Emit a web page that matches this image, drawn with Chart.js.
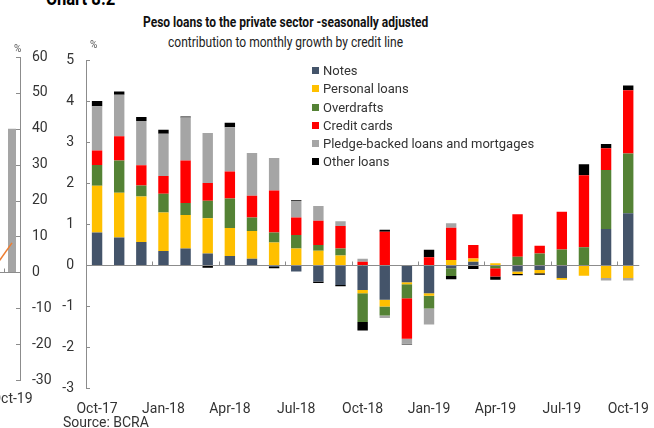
<!DOCTYPE html>
<html>
<head>
<meta charset="utf-8">
<script src="https://cdn.jsdelivr.net/npm/chart.js@4/dist/chart.umd.min.js"></script>
<style>
  html, body { margin: 0; padding: 0; background: #fff; }
  body { width: 654px; height: 428px; position: relative; overflow: hidden; font-family: Roboto, "Noto Sans", sans-serif; color: #333; }
  .box { position: absolute; }
  .fit { position: absolute; white-space: nowrap; transform-origin: left top; }
  #chartNo { left: 46px; top: -14px; font-weight: bold; font-size: 20px; color: #000; }
  #titulo { top: 13px; font-weight: bold; font-size: 15px; color: #111; }
  #subtitulo { top: 33px; font-size: 15px; color: #222; }
  #fuente { position: absolute; left: 63px; top: 414px; font-size: 14px; color: #333; }
  .pct { position: absolute; font-size: 10px; color: #555; }
  #leyenda { position: absolute; left: 312px; top: 62px; font-size: 13px; color: #333; }
  #leyenda div { height: 18.3px; line-height: 18.3px; white-space: nowrap; }
  #leyenda span { display: inline-block; width: 7px; height: 7px; margin-right: 4px; vertical-align: 1px; }
</style>
</head>
<body>
<div id="chartNo" class="fit">Chart 8.2</div>
<div id="titulo" class="fit">Peso loans to the private sector -seasonally adjusted</div>
<div id="subtitulo" class="fit">contribution to monthly growth by credit line</div>

<div class="box" style="left:-30px; top:0; width:90px; height:428px;"><canvas id="graficoIzq"></canvas></div>
<div class="box" style="left:52px; top:0; width:602px; height:428px;"><canvas id="graficoBarras"></canvas></div>

<div class="pct" style="left:14px; top:43px;">%</div>
<div class="pct" style="left:90px; top:39px;">%</div>
<div id="leyenda"></div>
<div id="fuente">Source: BCRA</div>

<script>
// monthly contribution by credit line (p.p.)
const meses = ['Oct-17','Nov-17','Dec-17','Jan-18','Feb-18','Mar-18','Apr-18','May-18','Jun-18','Jul-18','Aug-18','Sep-18',
               'Oct-18','Nov-18','Dec-18','Jan-19','Feb-19','Mar-19','Apr-19','May-19','Jun-19','Jul-19','Aug-19','Sep-19','Oct-19'];
const documentos = [0.79,0.67,0.56,0.34,0.40,0.28,0.22,0.15,-0.05,-0.16,-0.40,-0.49,-0.61,-0.85,-0.42,-0.69,-0.08,0.08,0,-0.16,-0.12,-0.32,0,0.88,1.26];
const personales = [1.14,1.09,1.11,0.94,0.82,0.86,0.68,0.68,0.55,0.40,0.35,0.23,-0.08,-0.16,-0.05,-0.06,0.12,0.08,0.04,-0.06,-0.08,-0.04,-0.26,-0.32,-0.32];
const adelantos = [0.51,0.79,0.27,0.46,0.29,0.43,0.72,0.33,0.24,0.33,0.14,0.17,-0.70,-0.22,-0.34,-0.31,-0.19,0,-0.08,0.20,0.28,0.38,0.43,1.44,1.46];
const tarjetas = [0.35,0.59,0.49,0.43,1.04,0.43,0.66,0.53,1.03,0.43,0.59,0.55,0.08,0.81,-0.99,0.19,0.79,0.33,-0.20,1.04,0.19,0.92,1.76,0.53,1.54];
const garantia = [1.08,1.01,1.08,1.03,1.05,1.22,1.08,1.04,0.79,0.40,0.36,0.12,0.07,-0.06,-0.12,-0.39,0.11,0,0,0,0,0,0,-0.06,-0.06];
const otros = [0.13,0.08,0.10,0.10,0.02,-0.07,0.11,0,-0.03,0.02,-0.04,-0.03,-0.21,0.05,-0.02,0.18,-0.08,-0.10,-0.08,-0.03,-0.04,0,0.27,0.10,0.12];
const ticksY = [-3, 5, 1];

// neighbouring chart (only its last months are on the page)
const mesesIzq = ['Sep-19','Oct-19'];
const barrasIzq = [26.6, 40];
const lineaIzq = [1.9, 8.2];
const ticksIzq = [-30, 60, 10];

const series = [
  { label: 'Notes', data: documentos, color: '#44546A' },
  { label: 'Personal loans', data: personales, color: '#FFC000' },
  { label: 'Overdrafts', data: adelantos, color: '#548235' },
  { label: 'Credit cards', data: tarjetas, color: '#FF0000' },
  { label: 'Pledge-backed loans and mortgages', data: garantia, color: '#A5A5A5' },
  { label: 'Other loans', data: otros, color: '#000000' }
];

// squeeze a text to a given width (the heading font is condensed)
function ajustar(id, ancho, centro) {
  const el = document.getElementById(id);
  const w = el.offsetWidth;
  el.style.transform = 'scaleX(' + (ancho / w) + ')';
  el.style.left = (centro != null ? centro - ancho / 2 : el.offsetLeft) + 'px';
}
ajustar('titulo', 285, 285.5);
ajustar('subtitulo', 235, 285.5);
ajustar('chartNo', 69, null);

document.getElementById('leyenda').innerHTML = series.map(s =>
  `<div><span style="background:${s.color}"></span>${s.label}</div>`).join('');

const gris = '#8c8c8c';
const fuenteEje = { family: 'Roboto', size: 14 };

// small inward ticks on the value axis and quarter marks on the zero line
const marcas = {
  id: 'marcas',
  afterDraw(chart, args, opts) {
    const { ctx, chartArea } = chart;
    const y = chart.scales.y, x = chart.scales.x;
    ctx.save();
    ctx.strokeStyle = gris;
    ctx.lineWidth = 1;
    ctx.beginPath();
    y.ticks.forEach(t => {
      const py = Math.round(y.getPixelForValue(t.value)) + 0.5;
      if (opts.derecha) { ctx.moveTo(chartArea.right - 4, py); ctx.lineTo(chartArea.right, py); }
      else { ctx.moveTo(chartArea.left, py); ctx.lineTo(chartArea.left + 4, py); }
    });
    const y0 = Math.round(y.getPixelForValue(0)) + 0.5;
    chart.data.labels.forEach((m, i) => {
      if (i === 0 || !/^(Jan|Apr|Jul|Oct)/.test(m)) return;
      const px = Math.round((x.getPixelForValue(i - 1) + x.getPixelForValue(i)) / 2) + 0.5;
      ctx.moveTo(px, y0); ctx.lineTo(px, y0 - 4);
    });
    ctx.moveTo(chartArea.left, y0); ctx.lineTo(chartArea.right, y0);
    ctx.stroke();
    ctx.restore();
  }
};

const etiquetaTrimestral = function (v, i) {
  const m = this.getLabelForValue(v);
  return /^(Jan|Apr|Jul|Oct)/.test(m) ? m : '';
};

new Chart(document.getElementById('graficoBarras'), {
  type: 'bar',
  data: {
    labels: meses,
    datasets: series.map(s => ({
      label: s.label,
      data: s.data,
      backgroundColor: s.color,
      borderWidth: 0,
      barPercentage: 0.47,
      categoryPercentage: 1
    }))
  },
  options: {
    responsive: true,
    maintainAspectRatio: false,
    animation: false,
    layout: { padding: { top: 60, right: 11, left: 0, bottom: 0 } },
    plugins: { legend: { display: false }, tooltip: { enabled: false }, marcas: {} },
    scales: {
      x: {
        stacked: true,
        grid: { display: false },
        border: { display: false },
        ticks: { autoSkip: false, maxRotation: 0, padding: 5, color: '#333', font: fuenteEje, callback: etiquetaTrimestral },
        afterFit: s => { s.height = 40; }
      },
      y: {
        stacked: true,
        min: ticksY[0], max: ticksY[1],
        ticks: { stepSize: ticksY[2], padding: 12, color: '#333', font: fuenteEje },
        grid: { display: false, drawTicks: false },
        border: { display: true, color: gris },
        afterFit: s => { s.width = 34; }
      }
    }
  },
  plugins: [marcas]
});

new Chart(document.getElementById('graficoIzq'), {
  data: {
    labels: mesesIzq,
    datasets: [
      { type: 'line', data: lineaIzq, borderColor: '#ED7D31', borderWidth: 1.5, pointRadius: 0, order: 0 },
      { type: 'bar', data: barrasIzq, backgroundColor: '#A5A5A5', borderWidth: 0, barPercentage: 0.5, categoryPercentage: 1, order: 1 }
    ]
  },
  options: {
    responsive: true,
    maintainAspectRatio: false,
    animation: false,
    layout: { padding: { top: 57, left: 18, right: 0, bottom: 0 } },
    plugins: { legend: { display: false }, tooltip: { enabled: false }, marcas: { derecha: true } },
    scales: {
      x: {
        grid: { display: false },
        border: { display: false },
        ticks: { autoSkip: false, maxRotation: 0, padding: 3, color: '#333', font: fuenteEje, callback: etiquetaTrimestral },
        afterFit: s => { s.height = 48; }
      },
      y: {
        position: 'right',
        min: ticksIzq[0], max: ticksIzq[1],
        ticks: { stepSize: ticksIzq[2], padding: 12, color: '#333', font: fuenteEje },
        grid: { display: false, drawTicks: false },
        border: { display: true, color: gris },
        afterFit: s => { s.width = 40; }
      }
    }
  },
  plugins: [marcas]
});
</script>
</body>
</html>
